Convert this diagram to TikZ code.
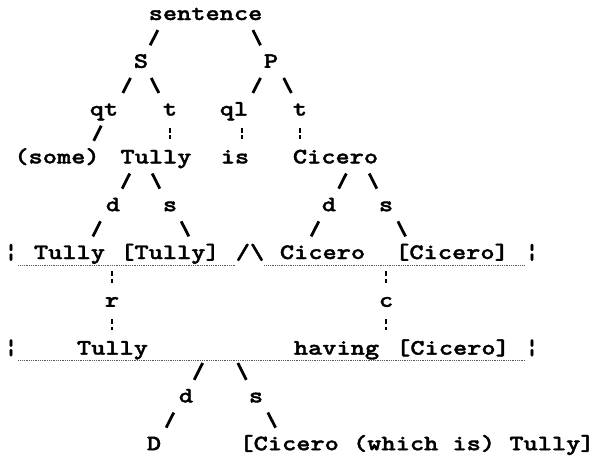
\documentclass[tikz,border=0pt]{standalone}
\usepackage{fontspec}
\usepackage{tikz}
\usetikzlibrary{positioning}
\newfontfamily\treefont{lmmonolt10-bold.otf}[FakeStretch=1.23,FakeBold=1.6]

\begin{document}
\begin{tikzpicture}[x=1pt,y=-1pt,
    word/.style={anchor=base,inner sep=0pt,text height=14pt,text depth=6pt,
                 font=\treefont\fontsize{22}{24}\selectfont},
    branch/.style={line width=2.8pt,shorten <=4.4pt,shorten >=9.4pt},
    chain/.style={line width=2.6pt,dash pattern=on 5pt off 2.5pt,shorten <=6pt,shorten >=10pt},
    underl/.style={line width=1pt,black!65,dash pattern=on 1pt off 0.8pt}]

  \useasboundingbox (0,0) rectangle (594,456);

  % tree of the sentence
  \node[word] (sent) at (205.5,20) {sentence};
  \node[word] (S) at (141,67.8) {S};
  \node[word] (P) at (271,67.8) {P};
  \node[word] (qt) at (104,115.6) {qt};
  \node[word] (tS) at (170,115.6) {t};
  \node[word] (ql) at (234,115.6) {ql};
  \node[word] (tP) at (300,115.6) {t};
  \node[word] (some) at (57,163.4) {(some)};
  \node[word] (tully) at (156,163.4) {Tully};
  \node[word] (is) at (235,163.4) {is};
  \node[word] (cicero) at (335.5,163.4) {Cicero};
  \node[word] (dT) at (113,211.2) {d};
  \node[word] (sT) at (170,211.2) {s};
  \node[word] (dC) at (329,211.2) {d};
  \node[word] (sC) at (386,211.2) {s};

  % the two conjuncts
  \node[word] (lbar) at (11,259) {¦};
  \node[word] (tullyD) at (69.5,259) {Tully};
  \node[word] (tullyS) at (170,259) {[Tully]};
  \node[word] (and) at (250,259) {/\textbackslash};
  \node[word] (ciceroD) at (322.5,259) {Cicero};
  \node[word] (ciceroS) at (452,259) {[Cicero]};
  \node[word] (rbar) at (532,259) {¦};
  \node[word] (r) at (112,306.8) {r};
  \node[word] (c) at (386,306.8) {c};
  \node[word] (lbar2) at (11,354.6) {¦};
  \node[word] (tullyR) at (112.5,354.6) {Tully};
  \node[word] (having) at (336.5,354.6) {having};
  \node[word] (ciceroH) at (453,354.6) {[Cicero]};
  \node[word] (rbar2) at (532,354.6) {¦};
  \node[word] (dH) at (186,402.4) {d};
  \node[word] (sH) at (256,402.4) {s};
  \node[word] (D) at (154,450.2) {D};
  \node[word] (which) at (417,450.2) {[Cicero (which is) Tully]};

  \draw[underl] (lbar.south east) -- (and.south west);
  \draw[underl] (and.south east) -- (rbar.south west);
  \draw[underl] (lbar2.south east) -- (rbar2.south west);

  \path[branch]
    ([xshift=-45.7pt]sent.south) edge ([xshift=4.9pt]S.north)
    ([xshift=45.4pt]sent.south) edge ([xshift=-6.2pt]P.north)
    ([xshift=-8.5pt]S.south) edge ([xshift=14.6pt]qt.north)
    ([xshift=8.2pt]S.south) edge ([xshift=-6.9pt]tS.north)
    ([xshift=-8.5pt]P.south) edge ([xshift=14.6pt]ql.north)
    ([xshift=10.7pt]P.south) edge ([xshift=-4.4pt]tP.north)
    ([xshift=-0.7pt]qt.south) edge ([xshift=32.4pt]some.north)
    ([xshift=-24.2pt]tully.south) edge ([xshift=4.9pt]dT.north)
    ([xshift=-5.8pt]tully.south) edge ([xshift=-5.9pt]sT.north)
    ([xshift=12.8pt]cicero.south) edge ([xshift=5.4pt]dC.north)
    ([xshift=31.7pt]cicero.south) edge ([xshift=-4.9pt]sC.north)
    ([xshift=-10.5pt]dT.south) edge ([xshift=19.1pt]tullyD.north)
    ([xshift=9.2pt]sT.south) edge ([xshift=23.1pt]tullyS.north)
    ([xshift=-8.2pt]dC.south) edge ([xshift=-15.6pt]ciceroD.north)
    ([xshift=9.9pt]sC.south) edge ([xshift=-42.2pt]ciceroS.north)
    ([xshift=17.8pt]dH.north |- lbar2.south) edge[shorten <=2.5pt] ([xshift=3.9pt]dH.north)
    ([xshift=-19.3pt]sH.north |- lbar2.south) edge[shorten <=2.5pt] ([xshift=-5.4pt]sH.north)
    ([xshift=-10.2pt]dH.south) edge ([xshift=7.9pt]D.north)
    ([xshift=9.9pt]sH.south) edge ([xshift=-137.2pt]which.north);

  \path[chain]
    (tS.south) edge (tS.south |- tully.north)
    ([xshift=8pt]ql.south) edge ([xshift=7pt]is.north)
    (tP.south) edge (tP.south |- cicero.north)
    (r |- lbar.south) edge (r.north)
    (r.south) edge (r.south |- tullyR.north)
    (c |- rbar.south) edge (c.north)
    (c.south) edge (c.south |- having.north);

\end{tikzpicture}
\end{document}
